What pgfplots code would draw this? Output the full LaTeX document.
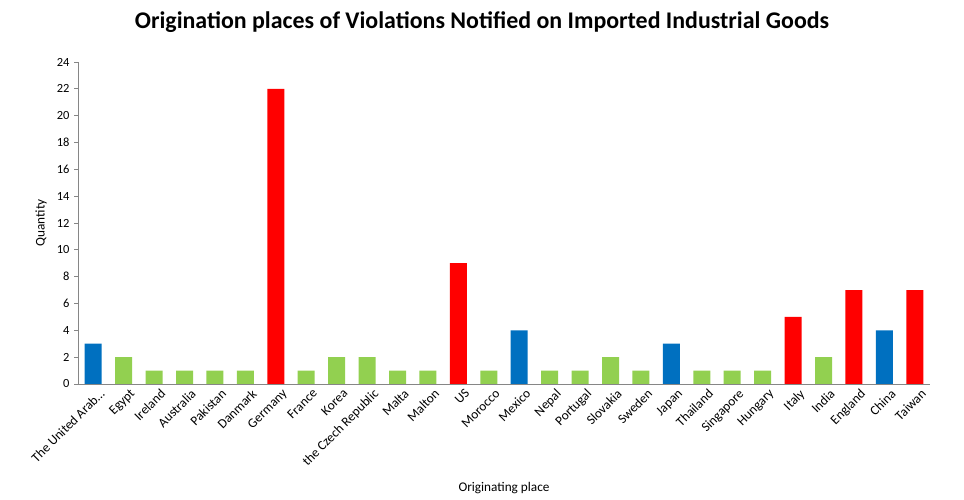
\documentclass[border=0pt]{standalone}
\usepackage{pgfplots}
\pgfplotsset{compat=1.18}
\usepackage{fontspec}
\setmainfont{Carlito}
\definecolor{cblue}{RGB}{0,112,192}
\definecolor{cgreen}{RGB}{146,208,80}
\definecolor{cred}{RGB}{255,0,0}
\definecolor{axgray}{RGB}{134,134,134}
\begin{document}
\begin{tikzpicture}[x=1bp,y=1bp]
\path[use as bounding box] (0,0) rectangle (964,500);
\begin{axis}[
  at={(78bp,116bp)}, anchor=south west,
  scale only axis, width=852bp, height=322bp,
  xmin=-0.5, xmax=27.5, ymin=0, ymax=24,
  ytick={0,2,...,24},
  xtick={0,...,27},
  xticklabels={The United Arab\ldots,Egypt,Ireland,Australia,Pakistan,Danmark,Germany,France,Korea,the Czech Republic,Malta,Malton,US,Morocco,Mexico,Nepal,Portugal,Slovakia,Sweden,Japan,Thailand,Singapore,Hungary,Italy,India,England,China,Taiwan},
  x tick label style={rotate=45, anchor=north east, font=\fontsize{13.3}{14}\selectfont, inner sep=1pt, xshift=5bp, yshift=-3bp},
  y tick label style={font=\fontsize{12.5}{13}\selectfont, xshift=-1bp},
  /pgf/number format/assume math mode=true,
  axis x line*=bottom, axis y line*=left,
  axis line style={axgray, line width=0.75bp},
  x axis line style={-}, y axis line style={-},
  major x tick style={draw=none},
  ytick style={axgray, line width=0.75bp},
  tick align=outside, major tick length=4bp,
  ylabel={Quantity}, ylabel style={font=\fontsize{13.3}{14}\selectfont, at={(axis description cs:-0.0434,0.5)}, anchor=center},
  xlabel={Originating place}, xlabel style={font=\fontsize{13.3}{14}\selectfont, at={(axis description cs:0.5,-0.3245)}, anchor=center},
  ybar, bar width=17bp, bar shift=0pt,
  clip=false,
]
\addplot[fill=cblue, draw=none] coordinates {(0,3) (14,4) (19,3) (26,4)};
\addplot[fill=cgreen, draw=none] coordinates {(1,2) (2,1) (3,1) (4,1) (5,1) (7,1) (8,2) (9,2) (10,1) (11,1) (13,1) (15,1) (16,1) (17,2) (18,1) (20,1) (21,1) (22,1) (24,2)};
\addplot[fill=cred, draw=none] coordinates {(6,22) (12,9) (23,5) (25,7) (27,7)};
\end{axis}
\node[font=\fontsize{24}{28}\bfseries\selectfont] at (482,478) {Origination places of Violations Notified on Imported Industrial Goods};
\end{tikzpicture}
\end{document}
